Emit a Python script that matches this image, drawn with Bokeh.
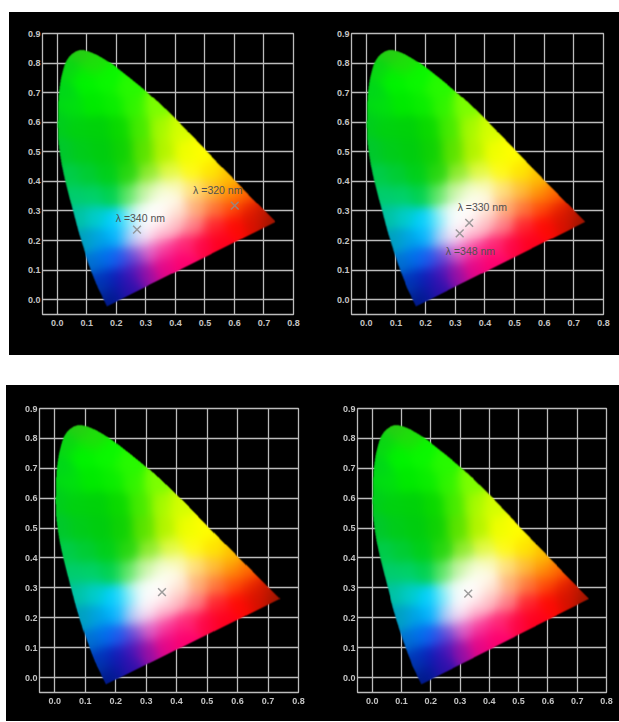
import numpy as np
from bokeh.plotting import figure
from bokeh.layouts import row, column
from bokeh.models import FixedTicker, PrintfTickFormatter, Range1d, ColumnDataSource
from bokeh.core.properties import value
from bokeh.embed import file_html
from bokeh.resources import INLINE

x_ticks = [0.0, 0.1, 0.2, 0.3, 0.4, 0.5, 0.6, 0.7, 0.8]
y_ticks = [0.0, 0.1, 0.2, 0.3, 0.4, 0.5, 0.6, 0.7, 0.8, 0.9]

# outline of the colour region: from the tip over the apex to the lower corner
edge_x = [0.738, 0.700, 0.603, 0.506, 0.412, 0.317, 0.205, 0.171, 0.126, 0.0866, 0.070, 0.053, 0.030, 0.0135, 0.0060, 0.0030, 0.0020, 0.008, 0.022, 0.053, 0.080, 0.113, 0.135, 0.153, 0.168]
edge_y = [0.263, 0.300, 0.400, 0.500, 0.600, 0.691, 0.781, 0.806, 0.832, 0.8450, 0.842, 0.834, 0.810, 0.7530, 0.7000, 0.6510, 0.5600, 0.500, 0.420, 0.300, 0.200, 0.100, 0.045, 0.008, -0.022]

# colours at sample positions: (x, y, r, g, b)
samples = [
    (0.08,0.84,40,205,20),(0.04,0.78,10,215,20),(0.12,0.80,30,225,10),(0.09,0.74,0,245,0),(0.02,0.70,0,215,25),
    (0.17,0.74,10,248,0),(0.24,0.71,40,250,0),(0.05,0.65,0,225,15),(0.12,0.66,0,235,0),(0.19,0.66,10,238,0),
    (0.26,0.65,50,245,0),(0.33,0.65,125,255,0),(0.01,0.60,0,205,30),(0.07,0.58,0,210,15),(0.14,0.58,0,210,10),
    (0.21,0.58,10,218,0),(0.28,0.58,70,235,0),(0.35,0.58,165,250,0),(0.41,0.57,215,255,0),(0.02,0.50,0,200,45),
    (0.08,0.50,0,205,25),(0.15,0.50,0,205,15),(0.22,0.50,15,210,5),(0.29,0.50,90,228,0),(0.36,0.50,180,245,0),
    (0.43,0.50,240,255,0),(0.49,0.50,255,255,0),(0.04,0.42,0,205,75),(0.10,0.42,0,205,50),(0.17,0.42,0,208,25),
    (0.24,0.42,40,215,15),(0.31,0.42,140,235,40),(0.38,0.43,225,250,60),(0.45,0.43,255,252,20),(0.52,0.43,255,232,0),
    (0.58,0.41,255,195,0),(0.06,0.35,0,205,110),(0.12,0.35,0,210,105),(0.18,0.35,0,210,80),(0.24,0.35,90,230,100),
    (0.29,0.36,200,245,170),(0.34,0.37,245,252,215),(0.40,0.38,252,250,195),(0.46,0.37,255,225,130),(0.52,0.37,255,190,60),
    (0.58,0.36,255,150,10),(0.63,0.36,255,110,0),(0.07,0.28,0,195,165),(0.13,0.28,0,205,205),(0.19,0.27,0,208,255),
    (0.24,0.27,110,235,250),(0.28,0.29,245,252,250),(0.33,0.30,255,255,255),(0.38,0.33,255,255,245),(0.30,0.25,255,255,255),
    (0.35,0.27,255,248,245),(0.41,0.30,255,225,205),(0.47,0.31,255,175,120),(0.53,0.31,255,120,60),(0.59,0.31,255,70,10),
    (0.65,0.31,240,40,0),(0.70,0.29,190,25,0),(0.735,0.265,150,20,0),(0.66,0.27,215,15,0),(0.60,0.25,255,10,5),
    (0.53,0.25,255,40,50),(0.46,0.25,255,125,135),(0.40,0.25,255,185,195),(0.35,0.22,255,180,205),(0.29,0.21,250,225,245),
    (0.25,0.21,170,205,250),(0.20,0.21,0,180,255),(0.14,0.20,0,165,230),(0.09,0.20,0,160,190),(0.55,0.20,255,0,30),
    (0.49,0.19,255,5,70),(0.43,0.19,255,40,120),(0.37,0.17,250,50,150),(0.31,0.16,230,90,195),(0.26,0.15,115,75,215),
    (0.21,0.14,30,90,240),(0.16,0.14,0,110,240),(0.12,0.12,0,115,205),(0.42,0.13,255,0,110),(0.36,0.11,230,5,135),
    (0.30,0.09,155,15,165),(0.25,0.09,70,20,185),(0.20,0.07,15,30,185),(0.15,0.07,0,50,195),(0.14,0.04,0,60,165),
    (0.19,0.02,5,25,160),(0.17,-0.01,0,25,130),(0.24,0.04,50,15,170),
]
col_x = [s[0] for s in samples]
col_y = [s[1] for s in samples]
col_r = [s[2] for s in samples]
col_g = [s[3] for s in samples]
col_b = [s[4] for s in samples]

# panels: marks and labels
mark_x = [[0.270, 0.601], [0.347, 0.315], [0.352], [0.328]]
mark_y = [[0.237, 0.318], [0.260, 0.224], [0.286], [0.281]]
label_text = [["λ =340 nm", "λ =320 nm"], ["λ =330 nm", "λ =348 nm"], [], []]
label_x = [[0.198, 0.460], [0.308, 0.268], [], []]
label_y = [[0.277, 0.370], [0.312, 0.163], [], []]

GRID = "#bcbcbc"
TEXT = "#c4c4c4"


def chaikin(xs, ys, n=2):
    pts = np.column_stack([xs, ys])
    for _ in range(n):
        q = 0.75 * pts[:-1] + 0.25 * pts[1:]
        r = 0.25 * pts[:-1] + 0.75 * pts[1:]
        mid = np.empty((2 * len(q), 2))
        mid[0::2], mid[1::2] = q, r
        pts = np.vstack([pts[:1], mid, pts[-1:]])
    return pts[:, 0], pts[:, 1]


def blur(a, sigma):
    r = int(3 * sigma) + 1
    k = np.exp(-0.5 * (np.arange(-r, r + 1) / sigma) ** 2)
    k /= k.sum()
    pad = np.pad(a, r, mode="edge")
    pad = np.apply_along_axis(lambda v: np.convolve(v, k, mode="same"), 0, pad)
    pad = np.apply_along_axis(lambda v: np.convolve(v, k, mode="same"), 1, pad)
    return pad[r:-r, r:-r]


def build_image():
    x0, x1, y0, y1 = -0.01, 0.75, -0.03, 0.86
    nx, ny = 456, 534
    gx = x0 + (np.arange(nx) + 0.5) * (x1 - x0) / nx
    gy = y0 + (np.arange(ny) + 0.5) * (y1 - y0) / ny
    X, Y = np.meshgrid(gx, gy)
    px, py = chaikin(edge_x, edge_y)
    inside = np.zeros(X.shape, dtype=bool)
    n = len(px)
    for i in range(n):
        j = (i + 1) % n
        if py[i] == py[j]:
            continue
        cond = (py[i] > Y) != (py[j] > Y)
        xc = (px[j] - px[i]) * (Y - py[i]) / (py[j] - py[i]) + px[i]
        inside ^= cond & (X < xc)
    alpha = blur(inside.astype(float), 1.0)
    cx, cy = np.array(col_x), np.array(col_y)
    d2 = (X[..., None] - cx) ** 2 + (Y[..., None] - cy) ** 2
    w = np.exp(-d2 / (2 * 0.028 ** 2)) + 1e-12
    w /= w.sum(axis=2, keepdims=True)
    img = np.zeros((ny, nx), dtype=np.uint32)
    v = img.view(np.uint8).reshape((ny, nx, 4))
    for i, c in enumerate((col_r, col_g, col_b)):
        f = (w * np.array(c, dtype=float)).sum(axis=2)
        v[..., i] = np.clip(f, 0, 255).astype(np.uint8)
    v[..., 3] = np.clip(alpha * 255, 0, 255).astype(np.uint8)
    return img, x0, y0, x1 - x0, y1 - y0


IMG, IX, IY, IW, IH = build_image()


def panel(i, w, h, left, right, top, bottom):
    p = figure(width=w, height=h, x_range=Range1d(-0.05, 0.8), y_range=Range1d(-0.05, 0.9),
               output_backend="svg", toolbar_location=None, tools="",
               min_border_left=left, min_border_right=right, min_border_top=top, min_border_bottom=bottom,
               background_fill_color="black", border_fill_color="black",
               outline_line_color=GRID, outline_line_width=1.3)
    for ax, ticks in ((p.xaxis[0], x_ticks), (p.yaxis[0], y_ticks)):
        ax.ticker = FixedTicker(ticks=ticks)
        ax.formatter = PrintfTickFormatter(format="%.1f")
        ax.axis_line_color = None
        ax.major_tick_line_color = None
        ax.minor_tick_line_color = None
        ax.major_tick_in = 0
        ax.major_tick_out = 0
        ax.major_label_text_color = TEXT
        ax.major_label_text_font = "Liberation Sans"
        ax.major_label_text_font_style = "bold"
        ax.major_label_text_font_size = "9px"
    p.xaxis[0].major_label_standoff = 5
    p.yaxis[0].major_label_standoff = 2
    p.xgrid[0].ticker = FixedTicker(ticks=x_ticks)
    p.ygrid[0].ticker = FixedTicker(ticks=y_ticks)
    for g in (p.xgrid[0], p.ygrid[0]):
        g.grid_line_color = GRID
        g.grid_line_width = 1.3
    p.image_rgba(image=[IMG], x=IX, y=IY, dw=IW, dh=IH)
    p.scatter(mark_x[i], mark_y[i], marker="x", size=11, line_color="#8c8c8c", line_width=1.5, line_alpha=0.85)
    if label_text[i]:
        src = ColumnDataSource(dict(x=label_x[i], y=label_y[i], t=label_text[i]))
        p.text("x", "y", text="t", source=src, text_font=value("Liberation Sans"), text_font_size="10.5px",
               text_color="#505050", text_baseline="middle", text_align="left")
    return p


a = panel(0, 301, 343, 33, 17, 21, 41)
b = panel(1, 309, 343, 41, 16, 21, 41)
c = panel(2, 304, 336, 33, 12, 23, 29)
d = panel(3, 309, 336, 47, 13, 22, 29)

row1 = row(a, b, margin=(12, 0, 0, 9), styles={"background-color": "black"})
row2 = row(c, d, margin=(30, 0, 0, 6), styles={"background-color": "black"})
page = column(row1, row2, styles={"filter": "blur(0.65px)"})
open("out.html", "w").write(file_html(page, INLINE))
